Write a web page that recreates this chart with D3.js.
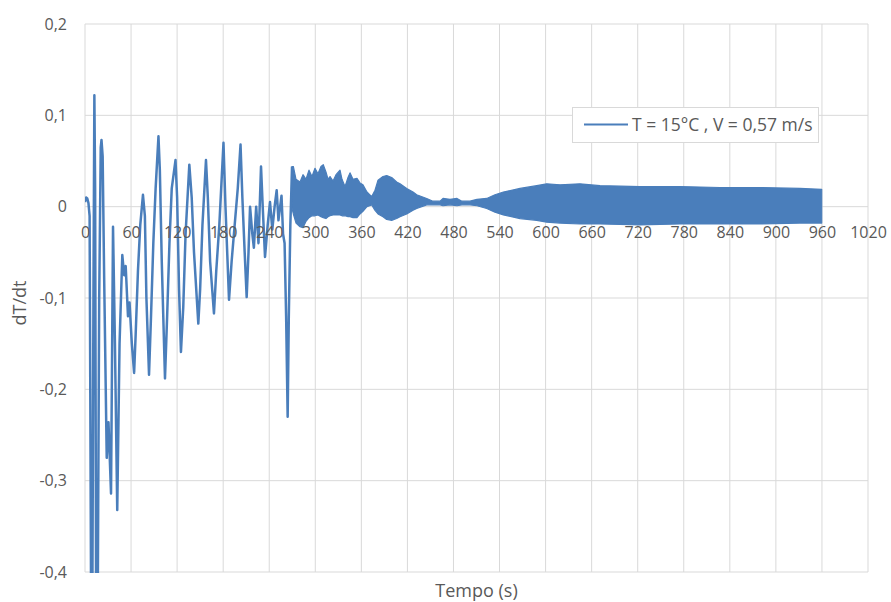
<!DOCTYPE html>
<html>
<head>
<meta charset="utf-8">
<script src="https://cdn.jsdelivr.net/npm/d3@7/dist/d3.min.js"></script>
<style>
  html, body { margin: 0; padding: 0; background: #fff; }
  svg { display: block; font-family: "Open Sans", sans-serif; }
</style>
</head>
<body>
<svg id="chart" width="891" height="602"></svg>
<script>
// Tick values for both axes
const xTicks = [0, 60, 120, 180, 240, 300, 360, 420, 480, 540, 600, 660, 720, 780, 840, 900, 960, 1020];
const yTicks = [0.2, 0.1, 0, -0.1, -0.2, -0.3, -0.4];

// Slow oscillating part of the record (time in s, dT/dt)
const slowTime = [0, 1.5, 3, 4.5, 6, 8, 9.5, 11, 12.2, 13.2, 14.5, 16.5, 18.5, 20.5, 21.5, 23, 25, 28.3, 30.6, 33.9,
  36.5, 39, 42, 45, 48.6, 51, 53, 56, 58, 61, 64, 66, 69, 72, 75.5, 78, 80, 83.4, 86, 89,
  92, 95.7, 97.5, 100, 104.2, 107, 110, 113, 117.9, 120, 122.5, 125, 128, 131, 135.9, 139, 142, 147.6, 150, 153,
  157.6, 160, 163, 168, 171, 175, 180.4, 183, 187.6, 191, 195, 199, 202.6, 205, 208, 210.6, 213, 215, 218, 220,
  223, 226, 229.3, 231.5, 234.5, 238, 241, 244, 247, 249.7, 252, 256, 258, 260, 262, 264, 265.5, 267.5, 269.7];
const slowValue = [0.005, 0.010, 0.009, 0.004, -0.01, -0.45, -0.45, -0.1, 0.122, 0.02, -0.45, -0.45, -0.1, 0.065, 0.073, 0.055, -0.08, -0.275, -0.236, -0.314,
  -0.022, -0.15, -0.332, -0.15, -0.053, -0.075, -0.065, -0.12, -0.105, -0.15, -0.182, -0.14, -0.07, -0.02, 0.013, -0.01, -0.1, -0.184, -0.12, -0.04,
  0.02, 0.077, 0.04, -0.06, -0.188, -0.12, -0.04, 0.02, 0.051, 0.01, -0.09, -0.159, -0.11, -0.03, 0.046, 0.01, -0.05, -0.128, -0.09, -0.02,
  0.051, 0.01, -0.06, -0.117, -0.07, -0.02, 0.070, 0.0, -0.102, -0.06, -0.02, 0.02, 0.068, 0.01, -0.05, -0.099, -0.05, 0.0, -0.03, -0.045,
  0.0, -0.04, 0.044, 0.0, -0.055, -0.02, 0.005, -0.025, 0.0, 0.018, -0.015, 0.012, -0.03, -0.04, -0.12, -0.230, -0.12, -0.02, 0.044];

// Fast oscillating part: upper and lower swing of dT/dt over time
const fastTime = [269.7, 271.4, 274.9, 280.1, 284.0, 287.9, 291.8, 295.7, 299.6, 303.5, 307.4, 310.4, 313.9, 316.6, 319.2, 323.1, 327.0, 332.2, 334.8, 338.7,
  342.6, 345.2, 349.1, 354.3, 358.2, 362.1, 367.3, 373.5,
  377.8, 381.7, 388.2, 393, 399.5, 406, 410.4, 419.1, 427.3, 432.1, 445.1, 453.3, 462.5, 466.4, 475.5, 484.6, 491, 501.5, 510.7, 523.3,
  534.1, 545, 566.7, 588.4, 601.4, 618.8, 644.8, 670.9, 723, 775.1, 827.2, 879.3, 931.4, 959.7];
const fastHigh = [0.044, 0.044, 0.030, 0.027, 0.035, 0.030, 0.040, 0.033, 0.042, 0.036, 0.044, 0.046, 0.038, 0.030, 0.033, 0.028, 0.035, 0.040, 0.030, 0.022,
  0.032, 0.037, 0.030, 0.031, 0.026, 0.024, 0.016, 0.011,
  0.018, 0.029, 0.033, 0.034, 0.032, 0.027, 0.025, 0.020, 0.016, 0.013, 0.009, 0.006, 0.006, 0.009, 0.008, 0.009, 0.006, 0.006, 0.008, 0.009,
  0.013, 0.016, 0.020, 0.023, 0.025, 0.024, 0.025, 0.023, 0.022, 0.022, 0.021, 0.021, 0.020, 0.019];
const fastLow = [-0.002, -0.008, -0.018, -0.022, -0.023, -0.016, -0.012, -0.010, -0.010, -0.009, -0.011, -0.012, -0.013, -0.011, -0.010, -0.009, -0.009, -0.009, -0.010, -0.010,
  -0.011, -0.011, -0.012, -0.012, -0.008, -0.005, 0.000, 0.002,
  -0.004, -0.008, -0.011, -0.014, -0.015, -0.013, -0.011, -0.008, -0.004, -0.002, 0.002, 0.002, 0.002, 0.001, 0.002, 0.001, 0.002, 0.002, 0.001, -0.002,
  -0.006, -0.009, -0.013, -0.015, -0.017, -0.018, -0.019, -0.019, -0.020, -0.019, -0.019, -0.019, -0.018, -0.018];

const seriesName = "T = 15°C , V = 0,57 m/s";
const xTitle = "Tempo (s)";
const yTitle = "dT/dt";

const lineColor = "#4a7ebb";
const gridColor = "#d9d9d9";
const textColor = "#595959";

const svg = d3.select("#chart");
const plot = { left: 85, right: 868, top: 24, bottom: 572 };

const x = d3.scaleLinear().domain([0, 1020]).range([plot.left, plot.right]);
const y = d3.scaleLinear().domain([-0.4, 0.2]).range([plot.bottom, plot.top]);

// Decimal comma, as in the original labels
const fmtY = v => v === 0 ? "0" : d3.format(".1f")(v).replace(".", ",").replace("−", "-");

// Grid
const grid = svg.append("g");
grid.selectAll("line.h").data(yTicks).join("line")
  .attr("x1", plot.left).attr("x2", plot.right)
  .attr("y1", d => y(d)).attr("y2", d => y(d))
  .attr("stroke", gridColor).attr("stroke-width", 1);
grid.selectAll("line.v").data(xTicks).join("line")
  .attr("x1", d => x(d)).attr("x2", d => x(d))
  .attr("y1", plot.top).attr("y2", plot.bottom)
  .attr("stroke", gridColor).attr("stroke-width", 1);

// Clip for the data
svg.append("clipPath").attr("id", "plotClip").append("rect")
  .attr("x", plot.left).attr("y", plot.top)
  .attr("width", plot.right - plot.left).attr("height", plot.bottom - plot.top + 1);

const dataG = svg.append("g").attr("clip-path", "url(#plotClip)");

// Fast oscillation band
const fast = fastTime.map((t, i) => ({ t, hi: fastHigh[i], lo: fastLow[i] }));
dataG.append("path").datum(fast)
  .attr("d", d3.area().x(d => x(d.t)).y0(d => y(d.lo)).y1(d => y(d.hi)))
  .attr("fill", lineColor).attr("stroke", lineColor).attr("stroke-width", 1.2)
  .attr("stroke-linejoin", "round");

// Slow oscillation line
const slow = slowTime.map((t, i) => ({ t, v: slowValue[i] }));
dataG.append("path").datum(slow)
  .attr("d", d3.line().x(d => x(d.t)).y(d => y(d.v)))
  .attr("fill", "none").attr("stroke", lineColor).attr("stroke-width", 2.5)
  .attr("stroke-linejoin", "round");

// Y axis labels
const yAxis = d3.axisLeft(y).tickValues(yTicks).tickSize(0).tickPadding(0).tickFormat(fmtY);
svg.append("g").attr("transform", `translate(${plot.left - 18},0)`).call(yAxis)
  .call(g => g.select(".domain").remove())
  .call(g => g.selectAll("text").attr("fill", textColor)
    .style("font-size", "16px").style("font-family", "'Open Sans', sans-serif"));

// X axis labels, sitting under the zero line
const xAxis = d3.axisBottom(x).tickValues(xTicks).tickSize(0).tickPadding(0)
  .tickFormat(d3.format("d"));
svg.append("g").attr("transform", `translate(0,${y(0) + 31})`).call(xAxis)
  .call(g => g.select(".domain").remove())
  .call(g => g.selectAll("text").attr("fill", textColor).attr("dy", "0")
    .style("font-size", "16px").style("font-family", "'Open Sans', sans-serif"));

// Legend
const lg = svg.append("g");
lg.append("rect").attr("x", 572.5).attr("y", 107.5).attr("width", 246).attr("height", 35)
  .attr("fill", "#fff").attr("stroke", gridColor).attr("stroke-width", 1);
lg.append("line").attr("x1", 584).attr("x2", 628).attr("y1", 124.5).attr("y2", 124.5)
  .attr("stroke", lineColor).attr("stroke-width", 2);
lg.append("text").attr("x", 632).attr("y", 131).attr("fill", textColor)
  .style("font-size", "17.5px").text(seriesName);

// Axis titles
svg.append("text").attr("x", (plot.left + plot.right) / 2).attr("y", 597)
  .attr("text-anchor", "middle").attr("fill", textColor)
  .style("font-size", "18px").text(xTitle);
svg.append("text").attr("transform", "translate(26,303) rotate(-90)")
  .attr("text-anchor", "middle").attr("fill", textColor)
  .style("font-size", "18px").text(yTitle);
</script>
</body>
</html>
